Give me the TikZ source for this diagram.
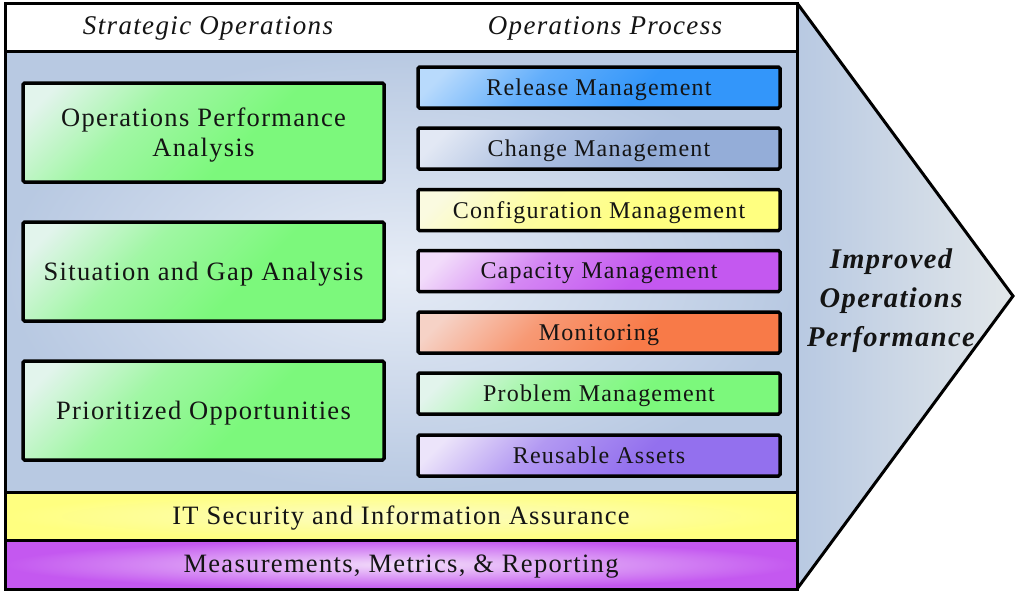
\documentclass[tikz,border=0pt]{standalone}
\usepackage{fontspec}
\setmainfont{Liberation Serif}[LetterSpace=5]
\definecolor{panelD}{HTML}{B8C9E2}
\definecolor{panelL}{HTML}{E6ECF6}
\definecolor{arrowR}{HTML}{E2E7EA}
\definecolor{greenD}{HTML}{7CF87C}
\definecolor{greenL}{HTML}{E2F4EC}
\definecolor{blueD}{HTML}{3396FA}
\definecolor{blueL}{HTML}{B8DAFC}
\definecolor{chgD}{HTML}{94ADD8}
\definecolor{chgL}{HTML}{E2E8F4}
\definecolor{yelD}{HTML}{FFFF80}
\definecolor{yelL}{HTML}{FAFAE0}
\definecolor{purD}{HTML}{C458F0}
\definecolor{purL}{HTML}{F2DCFA}
\definecolor{orgD}{HTML}{F87A48}
\definecolor{orgL}{HTML}{F6D2C6}
\definecolor{vioD}{HTML}{9370EE}
\definecolor{vioL}{HTML}{ECE4FA}
\definecolor{ink}{HTML}{141414}
\colorlet{gA}{white}
\colorlet{gB}{black}
\pgfdeclareverticalshading[gA,gB]{gloss}{100bp}{color(0bp)=(gB); color(42bp)=(gB); color(62bp)=(gB!65!gA); color(80bp)=(gA); color(100bp)=(gA)}
\tikzset{
  band/.style={draw=black, line width=3pt, minimum width=792pt, inner sep=0pt, text=ink,
    font=\fontsize{26.5}{30}\selectfont},
  grad/.style 2 args={/utils/exec={\colorlet{gA}{#1}\colorlet{gB}{#2}}, shading=gloss, shading angle=45},
  sbox/.style={draw=black, line width=3.5pt, rounded corners=1.5pt, minimum width=361pt,
    minimum height=99pt, inner sep=0pt, align=center, text=ink, text depth=0pt,
    font=\fontsize{26.5}{30}\selectfont},
  pbox/.style={draw=black, line width=3.5pt, rounded corners=1.5pt, minimum width=362pt,
    minimum height=41pt, inner sep=0pt, text=ink, text depth=0pt, font=\fontsize{24}{26}\selectfont},
  head/.style={text=ink, font=\fontsize{27}{30}\selectfont\itshape},
}
\begin{document}
\begin{tikzpicture}[x=1pt,y=-1pt]
\useasboundingbox (0,0) rectangle (1016,592);
% arrow
\coordinate (atop) at (797,3);
\coordinate (atip) at (1013,296);
\coordinate (abot) at (797,589);
\path[left color=panelD, right color=arrowR] (atop) -- (atip) -- (abot) -- cycle;
\draw[line width=3pt, line join=miter] (atop) -- (atip) -- (abot);
% panels
\node[band, minimum height=441pt, inner color=panelL, outer color=panelD] (main) at (401,271.5) {};
\node[band, minimum height=48pt, fill=white] (header) at (401,27) {};
\node[band, minimum height=48pt, inner color=yelL!70!yelD, outer color=yelD, text depth=2pt] (sec) at (401,516) {IT Security and Information Assurance};
\node[band, minimum height=49pt, inner color=purL, outer color=purD, text depth=2pt] (meas) at (401,564.5) {Measurements, Metrics, \& Reporting};
\node[head] (h1) at (208,28) {Strategic Operations};
\node[head] (h2) at (605,28) {Operations Process};
% strategic boxes
\node[sbox, grad={greenL}{greenD}] (s1) at (203.5,132.5) {Operations Performance\\Analysis};
\node[sbox, grad={greenL}{greenD}] (s2) at (203.5,271.5) {Situation and Gap Analysis};
\node[sbox, grad={greenL}{greenD}] (s3) at (203.5,410.5) {Prioritized Opportunities};
% process boxes
\node[pbox, grad={blueL}{blueD}] (p1) at (599,87.5) {Release Management};
\node[pbox, grad={chgL}{chgD}] (p2) at (599,148.5) {Change Management};
\node[pbox, grad={yelL}{yelD}] (p3) at (599,210) {Configuration Management};
\node[pbox, grad={purL}{purD}] (p4) at (599,271) {Capacity Management};
\node[pbox, grad={orgL}{orgD}] (p5) at (599,332.5) {Monitoring};
\node[pbox, grad={greenL}{greenD}] (p6) at (599,393.5) {Problem Management};
\node[pbox, grad={vioL}{vioD}] (p7) at (599,455.5) {Reusable Assets};
% result
\node[text=ink, align=center, text depth=0pt, font=\fontsize{28.5}{39}\selectfont\bfseries\itshape] (res) at (891,298) {Improved\\Operations\\Performance};
\end{tikzpicture}
\end{document}
